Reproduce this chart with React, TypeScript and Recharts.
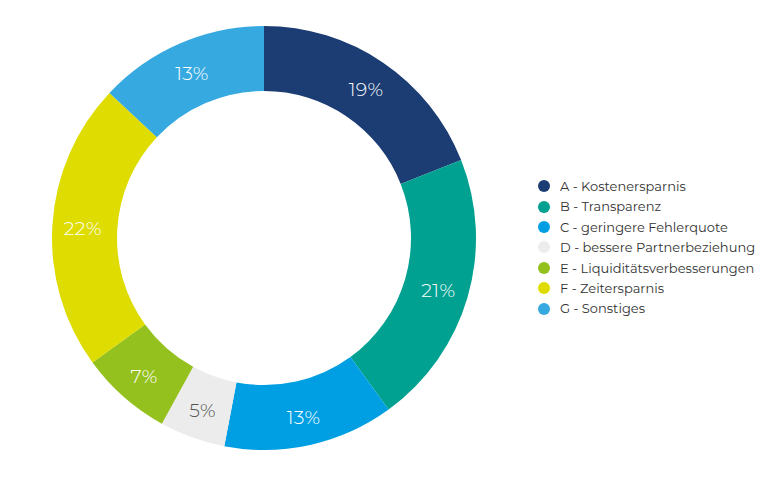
import React from "react";
import { PieChart, Pie, Cell } from "recharts";

const categories = [
  "A - Kostenersparnis",
  "B - Transparenz",
  "C - geringere Fehlerquote",
  "D - bessere Partnerbeziehung",
  "E - Liquiditätsverbesserungen",
  "F - Zeitersparnis",
  "G - Sonstiges",
];
const values = [19, 21, 13, 5, 7, 22, 13];
const colors = ["#1b3d73", "#00a191", "#009fe3", "#ececec", "#95c11f", "#dedc00", "#36a9e1"];
const labelColors = ["#ffffff", "#ffffff", "#ffffff", "#555555", "#ffffff", "#ffffff", "#ffffff"];

const data = categories.map((name, i) => ({ name, value: values[i] }));

const RAD = Math.PI / 180;
const FONT = "Montserrat, 'Open Sans', 'Noto Sans', sans-serif";

const renderLabel = (props: any) => {
  const { cx, cy, midAngle, innerRadius, outerRadius, index, value } = props;
  const r = (innerRadius + outerRadius) / 2 + 2;
  const x = cx + r * Math.cos(-midAngle * RAD);
  const y = cy + r * Math.sin(-midAngle * RAD) + 2;
  return (
    <text
      x={x}
      y={y}
      fill={labelColors[index]}
      textAnchor="middle"
      dominantBaseline="central"
      fontFamily={FONT}
      fontSize={19}
      fontWeight={300}
      letterSpacing={0.3}
    >
      {value}%
    </text>
  );
};

export default function App() {
  return (
    <div style={{ position: "absolute", left: 0, top: 0, width: 776, height: 487, background: "#fff" }}>
      <PieChart width={776} height={487} margin={{ top: 0, right: 0, bottom: 0, left: 0 }}>
        <Pie
          data={data}
          dataKey="value"
          nameKey="name"
          cx={264}
          cy={238}
          innerRadius={147}
          outerRadius={212}
          startAngle={90}
          endAngle={-270}
          stroke="none"
          label={renderLabel}
          labelLine={false}
          isAnimationActive={false}
        >
          {data.map((d, i) => (
            <Cell key={d.name} fill={colors[i]} />
          ))}
        </Pie>
      </PieChart>
      <div
        style={{
          position: "absolute",
          left: 538,
          top: 176,
          width: 236,
          fontFamily: FONT,
          fontSize: 13,
          color: "#333",
          lineHeight: "20.4px",
        }}
      >
        {categories.map((c, i) => (
          <div key={c} style={{ display: "flex", alignItems: "center", height: 20.4 }}>
            <span
              style={{
                display: "inline-block",
                width: 12,
                height: 12,
                borderRadius: 6,
                background: colors[i],
                marginRight: 10,
              }}
            />
            <span>{c}</span>
          </div>
        ))}
      </div>
    </div>
  );
}
